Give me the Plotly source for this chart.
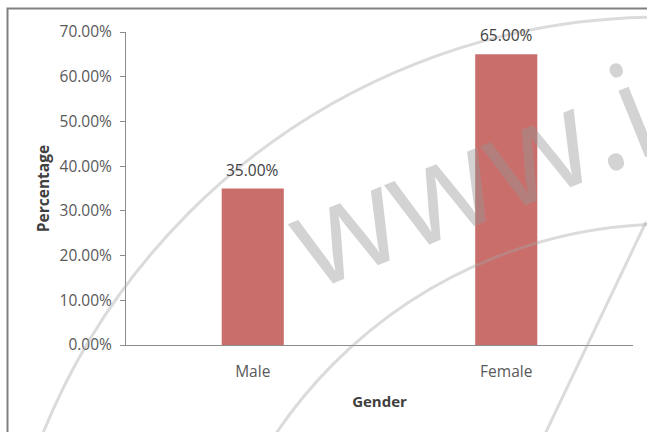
import plotly.graph_objects as go

categories = ["Male", "Female"]
values = [35.0, 65.0]
tick_vals = [0, 10, 20, 30, 40, 50, 60, 70]
tick_text = ["0.00%", "10.00%", "20.00%", "30.00%", "40.00%", "50.00%", "60.00%", "70.00%"]
label_text = ["35.00%", "65.00%"]

FONT = "Open Sans"
L, R, T, B = 126, 633, 32, 345  # plot area in pixels


def px(x):
    return (x - L) / (R - L)


def py(y):
    return (B - y) / (B - T)


fig = go.Figure(go.Bar(
    x=categories, y=values,
    marker=dict(color="#C96E6B", line=dict(width=0)),
    width=0.245,
))

annotations = [
    dict(x=c, y=v, text=t, showarrow=False, yshift=19,
         font=dict(family=FONT, size=15.5, color="#404040"))
    for c, v, t in zip(categories, values, label_text)
]
# faint watermark
annotations.append(dict(xref="paper", yref="paper", x=px(470), y=py(172),
                        xanchor="center", yanchor="middle",
                        text="www.i", showarrow=False, textangle=-22,
                        font=dict(family=FONT, size=134, color="rgba(150,150,150,0.42)")))

wm = "rgba(165,165,165,0.4)"
shapes = [
    dict(type="rect", xref="paper", yref="paper",
         x0=px(7.5), x1=px(720), y0=py(520), y1=py(8.5),
         line=dict(color="#808080", width=2), layer="below"),
    dict(type="circle", xref="paper", yref="paper",
         x0=px(661 - 667), x1=px(661 + 667), y0=py(684 + 667), y1=py(684 - 667),
         line=dict(color=wm, width=3), layer="above"),
    dict(type="circle", xref="paper", yref="paper",
         x0=px(670 - 475), x1=px(670 + 475), y0=py(699 + 475), y1=py(699 - 475),
         line=dict(color=wm, width=3), layer="above"),
    dict(type="line", xref="paper", yref="paper",
         x0=px(646), x1=px(545), y0=py(222), y1=py(434),
         line=dict(color=wm, width=3), layer="above"),
]

fig.update_layout(
    width=647, height=432,
    margin=dict(l=L, r=647 - R, t=T, b=432 - B),
    paper_bgcolor="white", plot_bgcolor="white",
    showlegend=False,
    font=dict(family=FONT, color="#595959", size=15.5),
    xaxis=dict(
        showline=True, linecolor="#8C8C8C", linewidth=1,
        ticks="", showgrid=False, ticklabelstandoff=12,
        tickfont=dict(size=15.5, color="#595959"),
        title=dict(text="<b>Gender</b>", font=dict(size=15, color="#404040"), standoff=15),
    ),
    yaxis=dict(
        range=[0, 70], tickvals=tick_vals, ticktext=tick_text,
        showline=True, linecolor="#8C8C8C", linewidth=1,
        ticks="outside", ticklen=5, tickcolor="#8C8C8C",
        showgrid=False, zeroline=False, ticklabelstandoff=5,
        tickfont=dict(size=15.5, color="#595959"),
        title=dict(text="<b>Percentage</b>", font=dict(size=15.5, color="#404040"), standoff=6),
    ),
    bargap=0.755,
    shapes=shapes,
    annotations=annotations,
)

fig.write_html("out.html")
